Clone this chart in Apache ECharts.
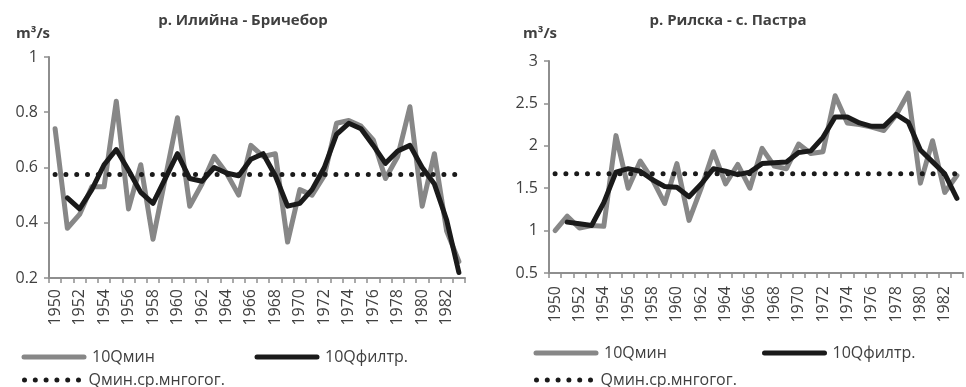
<!DOCTYPE html>
<html>
<head>
<meta charset="utf-8">
<script src="https://cdn.jsdelivr.net/npm/echarts@6/dist/echarts.min.js"></script>
<style>
  html, body { margin: 0; padding: 0; background: #fff; }
  #chart { width: 966px; height: 387px; }
</style>
</head>
<body>
<div id="chart"></div>
<script>
// Years of record
const years = ['1950','1951','1952','1953','1954','1955','1956','1957','1958','1959',
  '1960','1961','1962','1963','1964','1965','1966','1967','1968','1969',
  '1970','1971','1972','1973','1974','1975','1976','1977','1978','1979',
  '1980','1981','1982','1983'];

// р. Илийна - Бричебор
const ilijnaMin = [0.74, 0.38, 0.43, 0.53, 0.53, 0.84, 0.45, 0.61, 0.34, 0.56,
  0.78, 0.46, 0.54, 0.64, 0.58, 0.50, 0.68, 0.64, 0.65, 0.33,
  0.52, 0.50, 0.57, 0.76, 0.77, 0.75, 0.70, 0.56, 0.64, 0.82,
  0.46, 0.65, 0.37, 0.26];
const ilijnaFilt = [null, 0.49, 0.45, 0.52, 0.61, 0.665, 0.59, 0.51, 0.47, 0.56,
  0.65, 0.56, 0.55, 0.60, 0.58, 0.57, 0.63, 0.65, 0.57, 0.46,
  0.47, 0.52, 0.60, 0.72, 0.76, 0.74, 0.68, 0.615, 0.66, 0.68,
  0.60, 0.54, 0.41, 0.22];
const ilijnaMean = 0.575;

// р. Рилска - с. Пастра
const rilskaMin = [1.00, 1.17, 1.03, 1.06, 1.05, 2.12, 1.50, 1.82, 1.60, 1.32,
  1.79, 1.12, 1.50, 1.93, 1.55, 1.78, 1.50, 1.97, 1.76, 1.73,
  2.02, 1.91, 1.93, 2.59, 2.27, 2.25, 2.22, 2.18, 2.36, 2.62,
  1.56, 2.06, 1.45, 1.65];
const rilskaFilt = [null, 1.10, 1.08, 1.06, 1.33, 1.69, 1.73, 1.70, 1.60, 1.52,
  1.51, 1.40, 1.55, 1.73, 1.70, 1.66, 1.69, 1.79, 1.80, 1.81,
  1.92, 1.94, 2.10, 2.34, 2.34, 2.27, 2.23, 2.23, 2.37, 2.28,
  1.95, 1.81, 1.67, 1.38];
const rilskaMean = 1.67;

const titles = ['р. Илийна - Бричебор', 'р. Рилска - с. Пастра'];
const unitLabel = 'm³/s';
const names = ['10Qмин', '10Qфилтр.', 'Qмин.ср.мнгогог.'];

const FONT = "'Open Sans', 'Noto Sans', sans-serif";
const TEXT = '#404040';
const AXIS = '#8e8e8e';
const GREY = '#878787';
const BLACK = '#1a1a1a';

const chart = echarts.init(document.getElementById('chart'), null, { renderer: 'canvas' });

function xAxis(gridIndex, margin) {
  return {
    type: 'category', gridIndex, data: years, boundaryGap: true,
    axisLine: { lineStyle: { color: AXIS, width: 2 } },
    axisTick: { show: true, interval: 0, length: 5, lineStyle: { color: AXIS, width: 1.5 } },
    axisLabel: { interval: 1, rotate: 90, margin, color: TEXT, fontSize: 16, fontFamily: FONT }
  };
}
function yAxis(gridIndex, min, max, interval) {
  return {
    type: 'value', gridIndex, min, max, interval,
    axisLine: { show: true, lineStyle: { color: AXIS, width: 2 } },
    axisTick: { show: true, length: 5, lineStyle: { color: AXIS, width: 1.5 } },
    splitLine: { show: false },
    axisLabel: { margin: 11, color: TEXT, fontSize: 16, fontFamily: FONT }
  };
}
function seriesSet(idx, minData, filtData, mean) {
  return [
    { name: names[0] + (idx ? ' ' : ''), type: 'line', xAxisIndex: idx, yAxisIndex: idx,
      data: minData, symbol: 'none', silent: true,
      lineStyle: { color: GREY, width: 5, join: 'round', cap: 'round' }, itemStyle: { color: GREY } },
    { name: names[1] + (idx ? ' ' : ''), type: 'line', xAxisIndex: idx, yAxisIndex: idx,
      data: filtData, symbol: 'none', silent: true, connectNulls: false,
      lineStyle: { color: BLACK, width: 5, join: 'round', cap: 'round' }, itemStyle: { color: BLACK } },
    { name: names[2] + (idx ? ' ' : ''), type: 'line', xAxisIndex: idx, yAxisIndex: idx,
      data: [[years[0], mean], [years[years.length - 1], mean]], symbol: 'none', silent: true,
      lineStyle: { color: BLACK, width: 5, type: [0, 10.8], cap: 'round' }, itemStyle: { color: BLACK } }
  ];
}
function legendItem(name, left, top, width) {
  return {
    data: [name], left, top, padding: 0, orient: 'horizontal',
    itemWidth: width, itemHeight: 14, selectedMode: false,
    icon: undefined,
    itemStyle: { opacity: 0 },
    lineStyle: { width: 5, cap: 'round' },
    textStyle: { color: TEXT, fontSize: 16, fontFamily: FONT, padding: [0, 0, 0, 3] }
  };
}

const option = {
  animation: false,
  backgroundColor: '#fff',
  title: [
    { text: titles[0], left: 238, top: 8, textAlign: 'center',
      textStyle: { fontFamily: FONT, fontSize: 15, fontWeight: 'bold', color: TEXT } },
    { text: titles[1], left: 723, top: 8, textAlign: 'center',
      textStyle: { fontFamily: FONT, fontSize: 15, fontWeight: 'bold', color: TEXT } },
    { text: unitLabel, left: 11, top: 21,
      textStyle: { fontFamily: FONT, fontSize: 15, fontWeight: 'bold', color: TEXT } },
    { text: unitLabel, left: 518, top: 21,
      textStyle: { fontFamily: FONT, fontSize: 15, fontWeight: 'bold', color: TEXT } }
  ],
  grid: [
    { left: 49, top: 57, width: 416, height: 221, containLabel: false },
    { left: 549, top: 61, width: 414, height: 212, containLabel: false }
  ],
  xAxis: [xAxis(0, 11), xAxis(1, 13)],
  yAxis: [yAxis(0, 0.2, 1, 0.2), yAxis(1, 0.5, 3, 0.5)],
  legend: [
    legendItem(names[0], 21.5, 349, 60),
    legendItem(names[1], 254.5, 349, 60),
    legendItem(names[2], 22, 372, 56),
    legendItem(names[0] + ' ', 533.5, 345, 60),
    legendItem(names[1] + ' ', 762, 345, 60),
    legendItem(names[2] + ' ', 534, 372, 56)
  ],
  series: [].concat(
    seriesSet(0, ilijnaMin, ilijnaFilt, ilijnaMean),
    seriesSet(1, rilskaMin, rilskaFilt, rilskaMean)
  )
};
chart.setOption(option);
</script>
</body>
</html>
